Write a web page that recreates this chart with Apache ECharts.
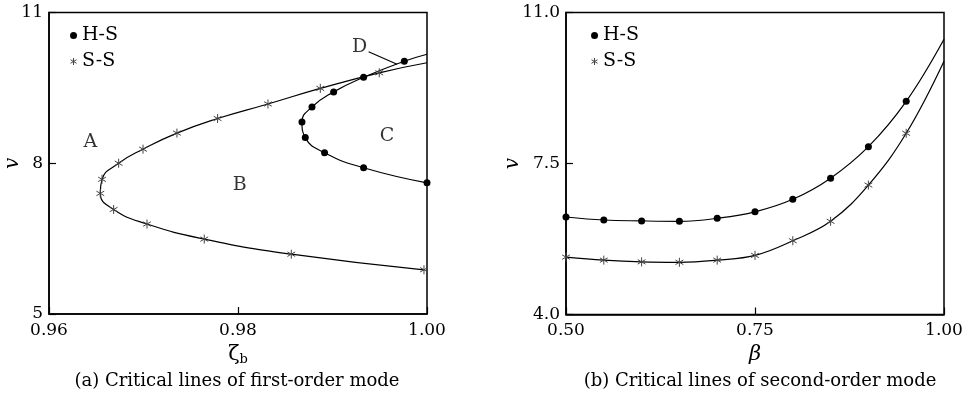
<!DOCTYPE html>
<html>
<head>
<meta charset="utf-8">
<script src="https://cdn.jsdelivr.net/npm/echarts@6/dist/echarts.min.js"></script>
<style>
  html, body { margin: 0; padding: 0; background: #fff; }
  #chart { width: 965px; height: 401px; }
</style>
</head>
<body>
<div id="chart"></div>
<script>
// ---- (a) first-order mode: critical speed v against damping ratio zeta_b ----
// H-S curve, listed along the curve from its upper end down to its lower end
const hsZeta   = [0.99760, 0.99329, 0.99012, 0.98783, 0.98677, 0.98712, 0.98916, 0.99329, 1.00000];
const hsV      = [10.03, 9.71, 9.42, 9.12, 8.82, 8.51, 8.21, 7.91, 7.61];
const hsTopEnd = [1.00, 10.17];
// S-S curve, listed along the curve from its upper end down to its lower end
const ssZeta   = [0.99495, 0.98871, 0.98317, 0.97784, 0.97354, 0.96995, 0.96737, 0.96561,
                  0.96543, 0.96684, 0.97037, 0.97643, 0.98564, 0.99968];
const ssV      = [9.80, 9.49, 9.18, 8.89, 8.60, 8.28, 8.00, 7.68, 7.40, 7.08, 6.79, 6.49, 6.19, 5.88];
const ssTopEnd = [1.00, 10.00];
// region labels
const regionNames = ['A', 'B', 'C', 'D'];
const regionZeta  = [0.96437, 0.98017, 0.99577, 0.99287];
const regionV     = [8.43, 7.57, 8.54, 10.32];
const arrowFrom   = [0.99382, 10.22];
const arrowTo     = [0.99683, 9.97];
const aXTicks = ['0.96', '0.98', '1.00'];
const aYTicks = ['5', '8', '11'];

// ---- (b) second-order mode: critical speed v against beta ----
const beta    = [0.50, 0.55, 0.60, 0.65, 0.70, 0.75, 0.80, 0.85, 0.90, 0.95];
const hs2V    = [6.26, 6.19, 6.17, 6.16, 6.23, 6.38, 6.67, 7.16, 7.89, 8.94];
const hs2End  = [1.00, 10.38];
const ss2V    = [5.33, 5.26, 5.22, 5.21, 5.26, 5.37, 5.71, 6.16, 7.00, 8.20];
const ss2End  = [1.00, 9.87];
const bXTicks = ['0.50', '0.75', '1.00'];
const bYTicks = ['4.0', '7.5', '11.0'];

const FONT = 'DejaVu Serif';
const INK = '#000';
const STAR = 'path://M0,-10L0,10M-8.66,-5L8.66,5M-8.66,5L8.66,-5';

// plot boxes
const GRIDS = [
  { left: 49,  top: 12.5, width: 378, height: 301.5 },
  { left: 566, top: 12.5, width: 378, height: 302 }
];

const dotStyle  = { symbol: 'circle', symbolSize: 7, itemStyle: { color: INK, borderColor: INK, borderWidth: 0 } };
const starStyle = { symbol: STAR, symbolSize: 9, symbolKeepAspect: true,
                    itemStyle: { color: '#444', borderColor: '#444', borderWidth: 1 } };

// curve passing through the markers; plain end points carry no symbol
function curve(name, idx, pts, ends, marker, smooth) {
  const data = [];
  ends.before && data.push({ value: ends.before, symbol: 'none' });
  pts.forEach(p => data.push({ value: p }));
  ends.after && data.push({ value: ends.after, symbol: 'none' });
  return Object.assign({
    name: name, type: 'line', xAxisIndex: idx, yAxisIndex: idx,
    data: data, smooth: smooth, showSymbol: true, showAllSymbol: true,
    lineStyle: { color: INK, width: 1.2 }, z: 3, animation: false
  }, marker);
}

function zip(xs, ys) { return xs.map((x, i) => [x, ys[i]]); }

function tickFormatter(ticks) {
  return v => ticks.find(t => Math.abs(Number(t) - v) < 1e-6) || '';
}

function xAxis(idx, ticks, nameRich) {
  const vals = ticks.map(Number);
  return {
    type: 'value', gridIndex: idx, min: vals[0], max: vals[vals.length - 1],
    interval: vals[1] - vals[0],
    axisLine: { show: true, onZero: false, lineStyle: { color: INK, width: 1.5 } },
    axisTick: { show: true, inside: true, length: 7, lineStyle: { color: INK, width: 1.2 } },
    splitLine: { show: false },
    axisLabel: { color: INK, fontFamily: FONT, fontSize: 17, margin: 8, formatter: tickFormatter(ticks) },
    name: nameRich.text, nameLocation: 'middle', nameGap: 26,
    nameTextStyle: { color: INK, fontFamily: FONT, fontSize: 20, rich: nameRich.rich }
  };
}

function yAxis(idx, ticks) {
  const vals = ticks.map(Number);
  return {
    type: 'value', gridIndex: idx, min: vals[0], max: vals[vals.length - 1],
    interval: vals[1] - vals[0],
    axisLine: { show: true, onZero: false, lineStyle: { color: INK, width: 1.5 } },
    axisTick: { show: true, inside: true, length: 7, lineStyle: { color: INK, width: 1.2 } },
    splitLine: { show: false },
    axisLabel: { color: INK, fontFamily: FONT, fontSize: 17, margin: 6, formatter: tickFormatter(ticks) }
  };
}

// y-axis title "v", set at a fixed distance left of each plot box
function yTitle(g, dist) {
  return {
    type: 'text', x: g.left - dist, y: g.top + g.height / 2, rotation: Math.PI / 2,
    style: { text: 'v', fill: INK, font: 'italic 20px "' + FONT + '"', align: 'center', verticalAlign: 'middle' }
  };
}

function legend(left) {
  return {
    left: left, top: 21, orient: 'vertical', itemGap: 7, itemWidth: 7, itemHeight: 7,
    selectedMode: false,
    textStyle: { color: INK, fontFamily: FONT, fontSize: 19 },
    data: [
      { name: 'H-S', icon: 'circle', itemStyle: { color: INK, borderWidth: 0 } },
      { name: 'S-S', icon: STAR, itemStyle: { color: '#444', borderColor: '#444', borderWidth: 1 } }
    ]
  };
}

const chart = echarts.init(document.getElementById('chart'), null, { renderer: 'canvas' });

const captionStyle = { color: INK, fontFamily: FONT, fontSize: 18, fontWeight: 'normal' };

chart.setOption({
  animation: false,
  backgroundColor: '#fff',
  title: [
    { text: '(a) Critical lines of first-order mode', left: 232, top: 367, textAlign: 'center', textStyle: captionStyle },
    { text: '(b) Critical lines of second-order mode', left: 755, top: 367, textAlign: 'center', textStyle: captionStyle }
  ],
  legend: [legend(65), legend(586)],
  grid: GRIDS.map(g => Object.assign({ show: true, borderColor: INK, borderWidth: 1.5,
                                       containLabel: false, outerBoundsMode: 'none' }, g)),
  graphic: [yTitle(GRIDS[0], 36), yTitle(GRIDS[1], 53)],
  xAxis: [
    xAxis(0, aXTicks, { text: '{z|ζ}{s|b}', rich: { z: { fontFamily: FONT, fontSize: 21, color: INK },
                                                   s: { fontFamily: FONT, fontSize: 13, color: INK, padding: [11, 0, 0, 0] } } }),
    xAxis(1, bXTicks, { text: '{z|β}', rich: { z: { fontFamily: FONT, fontSize: 21, fontStyle: 'italic', color: INK } } })
  ],
  yAxis: [yAxis(0, aYTicks), yAxis(1, bYTicks)],
  series: [
    curve('H-S', 0, zip(hsZeta, hsV), { before: hsTopEnd }, dotStyle, 0.5),
    curve('S-S', 0, zip(ssZeta, ssV), { before: ssTopEnd }, starStyle, 0.5),
    curve('H-S', 1, zip(beta, hs2V), { after: hs2End }, dotStyle, 0.4),
    curve('S-S', 1, zip(beta, ss2V), { after: ss2End }, starStyle, 0.4),
    {
      name: 'regions', type: 'scatter', xAxisIndex: 0, yAxisIndex: 0, silent: true,
      symbolSize: 1, itemStyle: { color: 'rgba(0,0,0,0)' },
      data: regionNames.map((n, i) => ({ name: n, value: [regionZeta[i], regionV[i]] })),
      label: { show: true, position: 'inside', formatter: '{b}', color: INK,
               fontFamily: FONT, fontSize: 19 },
      markLine: {
        silent: true, symbol: ['none', 'arrow'], symbolSize: [0, 11],
        lineStyle: { color: INK, width: 1.1, type: 'solid' },
        label: { show: false },
        data: [[{ coord: arrowFrom }, { coord: arrowTo }]]
      }
    }
  ]
});
</script>
</body>
</html>
